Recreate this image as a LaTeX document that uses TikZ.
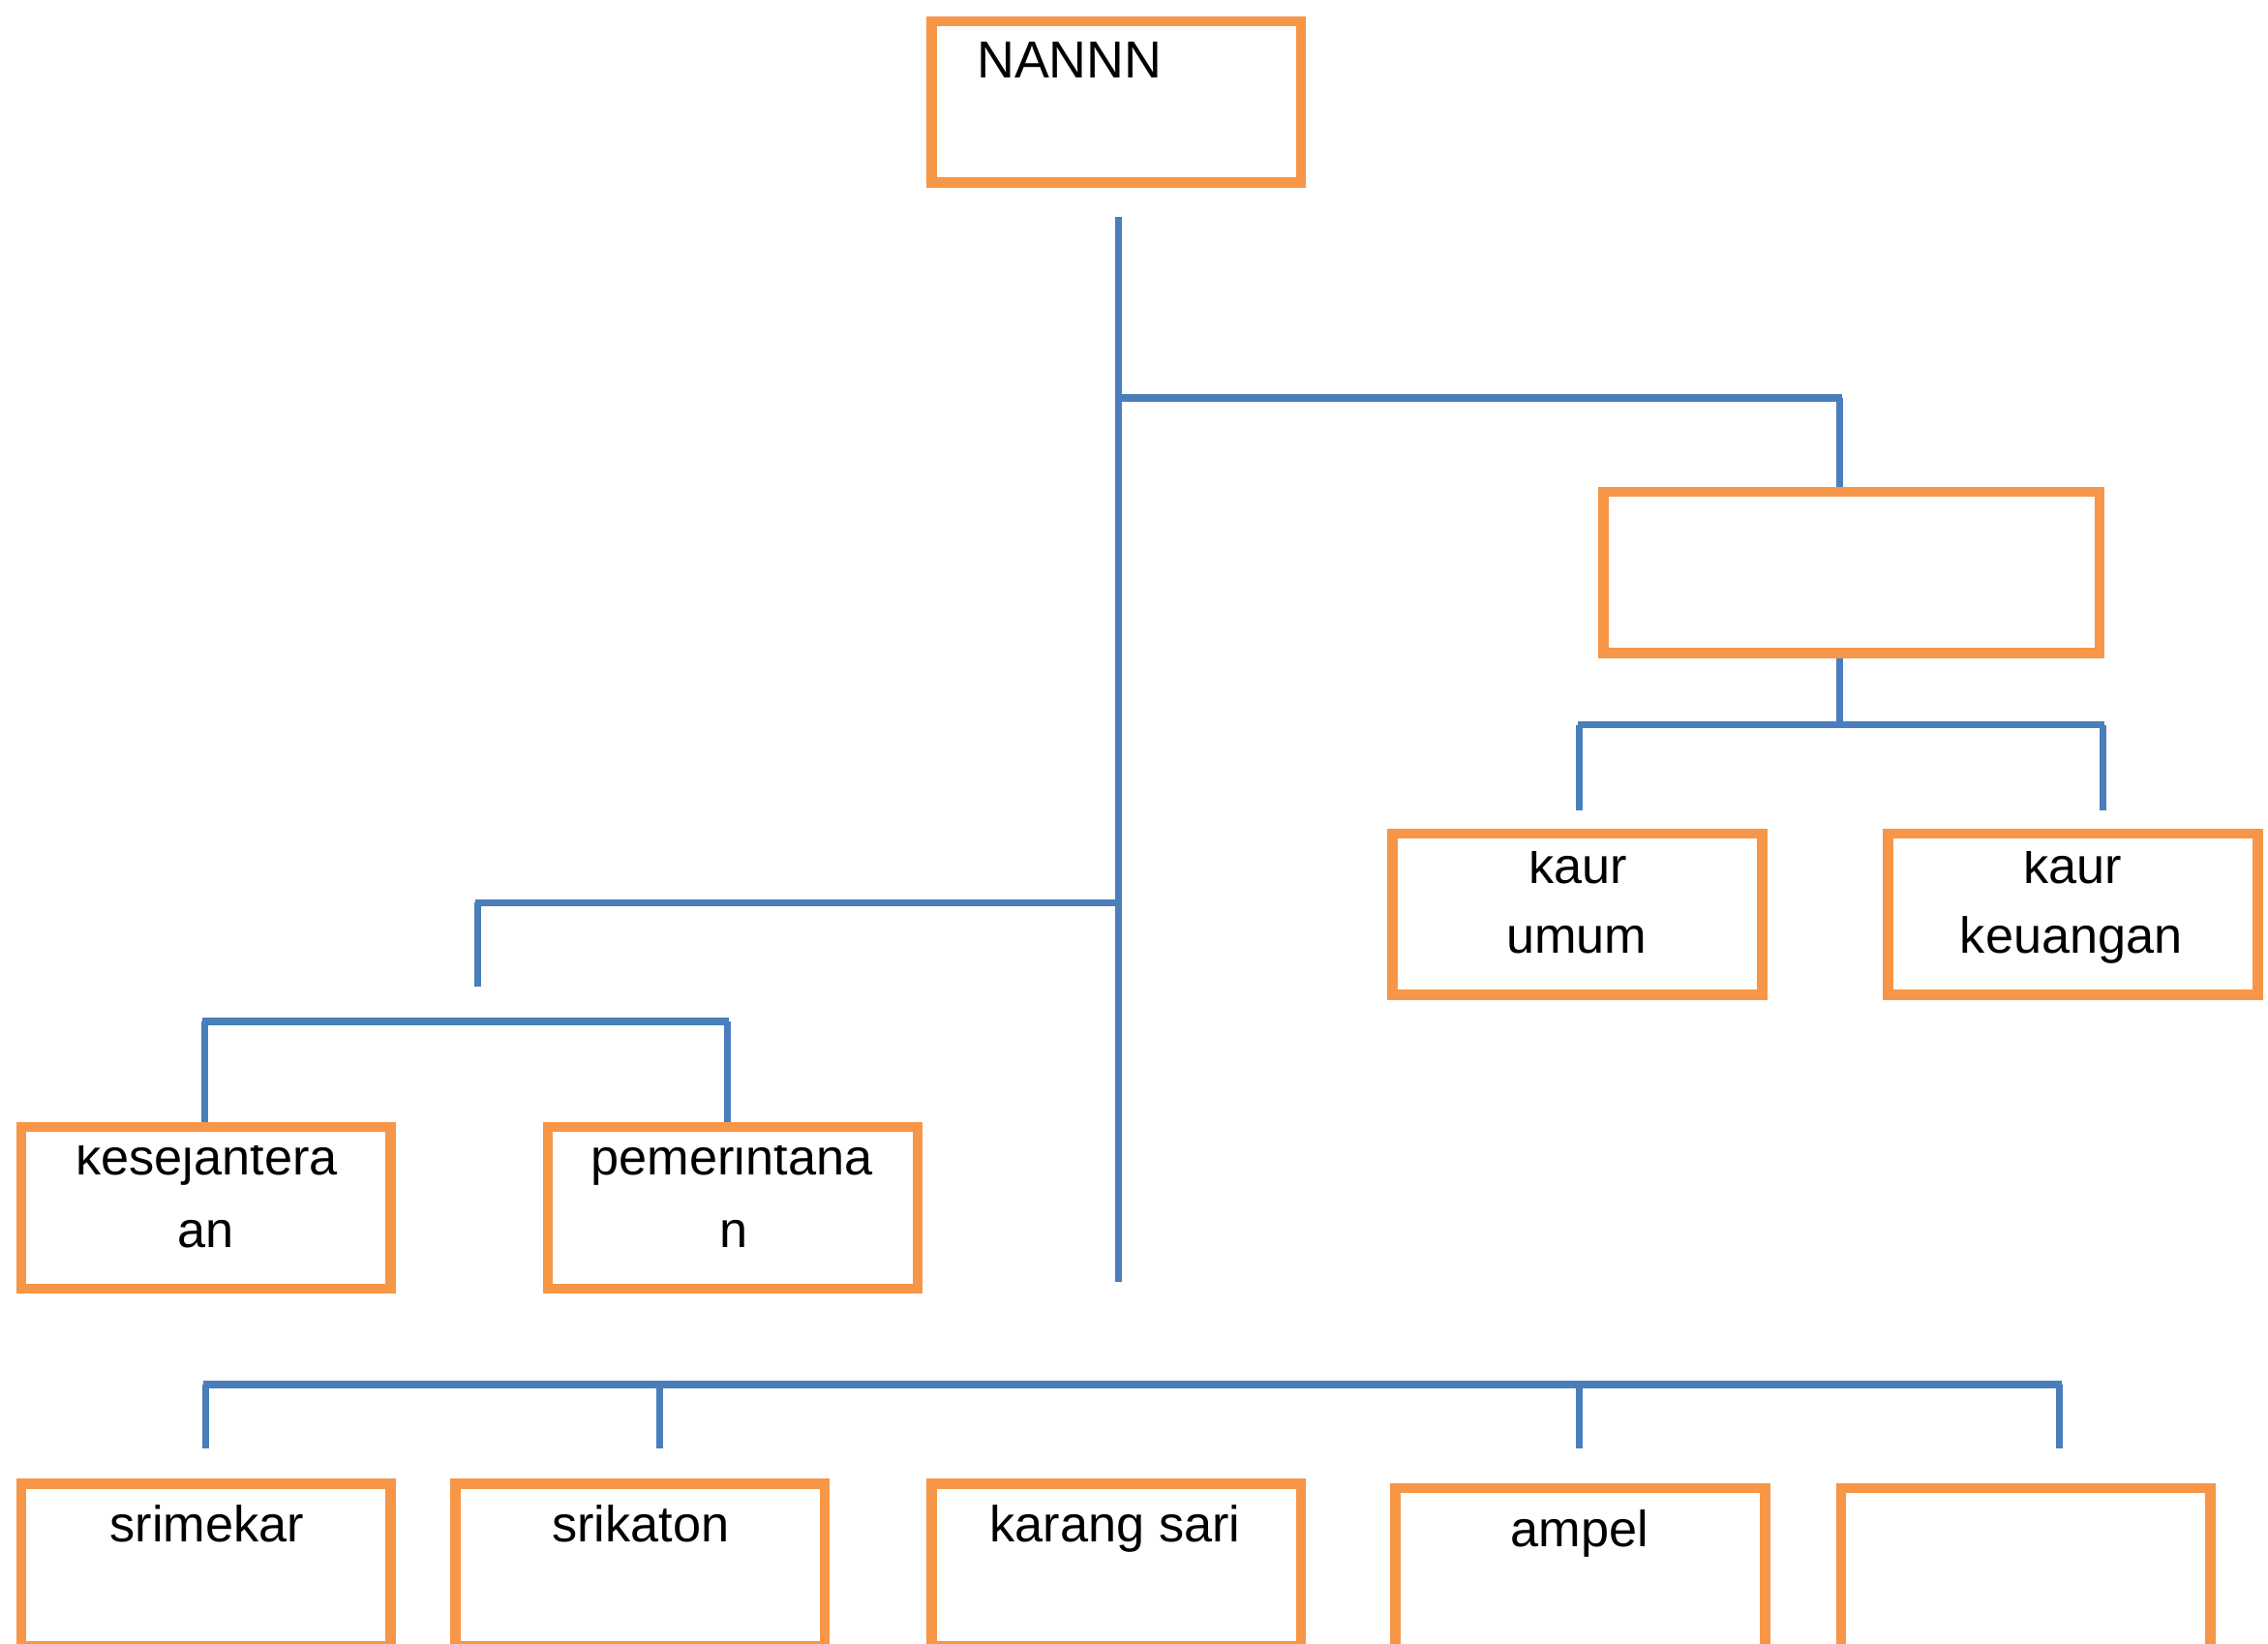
\documentclass[tikz,border=0pt]{standalone}
\usepackage{fontspec}
\setmainfont{Liberation Sans}
\definecolor{boxorange}{HTML}{F79646}
\definecolor{lineblue}{HTML}{4A7EBB}
\begin{document}
\begin{tikzpicture}[x=0.5pt,y=-0.5pt,
  box/.style={draw=boxorange,line width=3.5pt,rectangle,inner sep=0pt,minimum width=127.75pt,minimum height=55.75pt},
  wbox/.style={box,minimum width=171.5pt},
  lbox/.style={box,minimum height=56.15pt},
  txt/.style={font=\fontsize{17.5pt}{24pt}\selectfont,inner sep=0pt,anchor=base},
  bigtxt/.style={font=\fontsize{18pt}{24pt}\selectfont,inner sep=0pt,anchor=base west},
  hl/.style={draw=lineblue,line width=2.55pt},
  vl/.style={draw=lineblue,line width=2.35pt}]
\useasboundingbox (0,0) rectangle (1568,1136);
\clip (0,0) rectangle (1568,1136);
% coordinates
\coordinate (trunktop) at (773,150);
\coordinate (trunkend) at (773,886);
\coordinate (j1) at (773,275);
\coordinate (j1r) at (1272,275);
\coordinate (j2) at (1272,501);
\coordinate (j2l) at (1092,501);
\coordinate (j2r) at (1454,501);
\coordinate (j2ld) at (1092,560);
\coordinate (j2rd) at (1454,560);
\coordinate (j3) at (773,624);
\coordinate (j3l) at (330,624);
\coordinate (j3d) at (330,682);
\coordinate (j4l) at (141.3,706);
\coordinate (j4r) at (502.8,706);
\coordinate (j5l) at (142,957);
\coordinate (j5b) at (456,957);
\coordinate (j5c) at (1092,957);
\coordinate (j5r) at (1424,957);
\coordinate (d5l) at (142,1001);
\coordinate (d5b) at (456,1001);
\coordinate (d5c) at (1092,1001);
\coordinate (d5r) at (1424,1001);
% boxes
\node[box] (top) at (771.75,70.5) {};
\node[wbox] (mid) at (1280,395.7) {};
\node[box] (umum) at (1090.5,632) {};
\node[box] (keu) at (1433.2,632) {};
\node[box] (kes) at (142.3,834.8) {};
\node[box] (pem) at (506.7,834.8) {};
\node[lbox] (sri) at (142.3,1081.6) {};
\node[lbox] (srk) at (442.5,1081.6) {};
\node[lbox] (krs) at (771.75,1081.6) {};
\node[lbox] (amp) at (1092.5,1084.6) {};
\node[lbox] (emp) at (1400.5,1084.6) {};
% connectors
\draw[vl] (trunktop) -- (trunkend);
\draw[hl] (j1) -- ([xshift=0.6pt]j1r);
\draw[vl] (j1r) -- (j1r |- mid.north);
\draw[vl] (j1r |- mid.south) -- (j2);
\draw[hl] ([xshift=-0.6pt]j2l) -- ([xshift=0.6pt]j2r);
\draw[vl] (j2l) -- (j2ld);
\draw[vl] (j2r) -- (j2rd);
\draw[hl] (j3) -- ([xshift=-0.6pt]j3l);
\draw[vl] (j3l) -- (j3d);
\draw[hl] ([xshift=-0.6pt]j4l) -- ([xshift=0.6pt]j4r);
\draw[vl] (j4l) -- (j4l |- kes.north);
\draw[vl] (j4r) -- (j4r |- pem.north);
\draw[hl] ([xshift=-0.6pt]j5l) -- ([xshift=0.6pt]j5r);
\draw[vl] (j5l) -- (d5l);
\draw[vl] (j5b) -- (d5b);
\draw[vl] (j5c) -- (d5c);
\draw[vl] (j5r) -- (d5r);
% texts
\node[bigtxt] (topt) at (675,54) {NANNN};
\begin{scope}
\clip (970,588.5) rectangle (1210,640);
\node[txt] (umum1) at (1091,610.5) {kaur};
\end{scope}
\node[txt] (umum2) at (1090,658.6) {umum};
\begin{scope}
\clip (1313,588.5) rectangle (1553,640);
\node[txt] (keu1) at (1433,610.5) {kaur};
\end{scope}
\node[txt] (keu2) at (1432,658.6) {keuangan};
\begin{scope}
\clip (20,792) rectangle (265,840);
\node[txt] (kes1) at (143,812) {kesejantera};
\end{scope}
\node[txt] (kes2) at (142,862) {an};
\begin{scope}
\clip (384,792) rectangle (629,840);
\node[txt] (pem1) at (506,812) {pemerintana};
\end{scope}
\node[txt] (pem2) at (507,862) {n};
\node[txt] (srit) at (143,1066) {srimekar};
\node[txt] (srkt) at (443,1066) {srikaton};
\node[txt] (krst) at (771,1066) {karang sari};
\node[txt] (ampt) at (1092,1069) {ampel};
\end{tikzpicture}
\end{document}
